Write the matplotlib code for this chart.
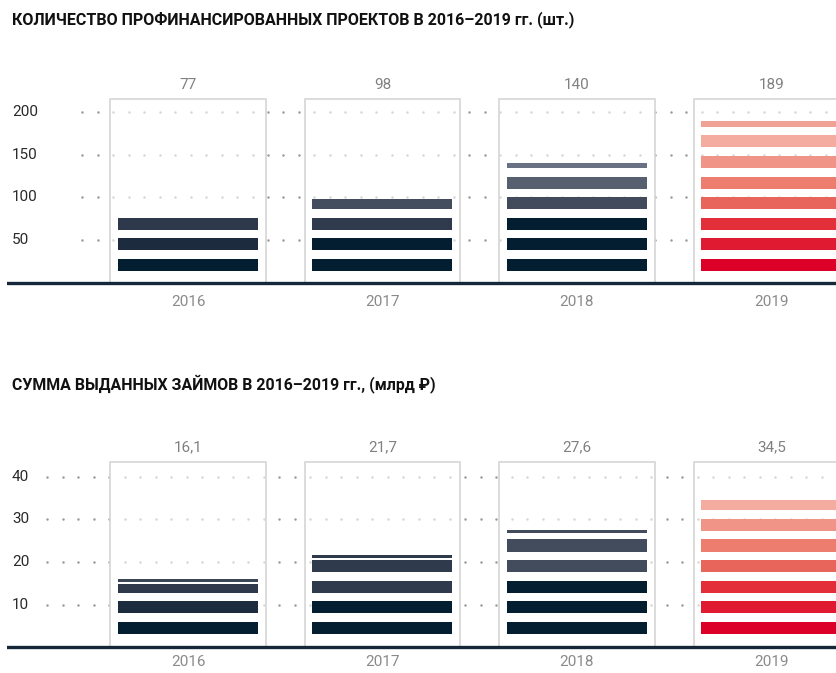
import matplotlib
matplotlib.use("Agg")
import matplotlib.pyplot as plt
import numpy as np

plt.rcParams['font.family'] = ['Roboto', 'DejaVu Sans']

years = ['2016', '2017', '2018', '2019']

# количество проектов (шт.)
projects = [77, 98, 140, 189]
projects_lbl = ['77', '98', '140', '189']
projects_ticks = [50, 100, 150, 200]

# сумма займов (млрд руб.)
loans = [16.1, 21.7, 27.6, 34.5]
loans_lbl = ['16,1', '21,7', '27,6', '34,5']
loans_ticks = [10, 20, 30, 40]

navy = '#021e30'
reds = ['#dc0029', '#e01b31', '#e32f39', '#e8655b', '#ec7d6f', '#ef9486', '#f3ac9f', '#f0a294']
colors_top = [
    [navy, '#1c2b3d', '#2e3a4b'],
    [navy, navy, '#2f3a4c', '#434d5e'],
    [navy, navy, navy, '#414b5c', '#56606f', '#687282'],
    reds,
]
colors_bot = [
    [navy, '#1c2b3d', '#2e3a4b', '#3a4556'],
    [navy, navy, '#2f3a4c', '#2f3a4c', '#2f3a4c'],
    [navy, navy, navy, '#424c5d', '#424c5d', '#424c5d'],
    reds,
]

XMIN, XMAX = -0.931, 3.338
BOX_W = 0.80
BAR_W = 0.72
DOT_STEP = 0.0797


def stripes(v, step, b0, h, tmin):
    # полосы с шагом step, верхняя обрезается по значению
    segs = []
    k = 0
    while b0 + k * step < v:
        lo = b0 + k * step
        hi = min(lo + h, v)
        if hi - lo < tmin:
            lo = hi - tmin
        segs.append([lo, hi])
        k += 1
    if v - segs[-1][1] > 0.06 * step:
        lo = v - tmin
        if lo - segs[-1][1] < 0.1 * step:
            segs[-1][1] = lo - 0.1 * step
        segs.append([lo, v])
    return segs


def panel(ax, vals, lbls, ticks, step, b0, h, tmin, colors, ylim, box_top, lbl_y, year_y, grid_x0):
    ax.set_xlim(XMIN, XMAX)
    ax.set_ylim(*ylim)
    ax.axis('off')

    # пунктирная сетка из точек
    xs = np.arange(grid_x0, XMAX, DOT_STEP)
    for t in ticks:
        ax.plot(xs, [t] * len(xs), ls='none', marker='o', ms=1.8,
                mec='none', mfc='#9c9c9c', zorder=1)
        ax.text(0.006, t, str(t), transform=ax.get_yaxis_transform(),
                ha='left', va='center', fontsize=11, color='#2a2a2a')

    for i, v in enumerate(vals):
        # рамка
        ax.add_patch(plt.Rectangle((i - BOX_W / 2, 0), BOX_W, box_top,
                                   facecolor='white', alpha=0.6, edgecolor='none', zorder=2))
        ax.add_patch(plt.Rectangle((i - BOX_W / 2, 0), BOX_W, box_top,
                                   facecolor='none', edgecolor='#d6d6d6', lw=1.2, zorder=2.5))
        for k, (lo, hi) in enumerate(stripes(v, step, b0, h, tmin)):
            ax.bar(i, hi - lo, bottom=lo, width=BAR_W, color=colors[i][k], zorder=3)

        ax.text(i, lbl_y, lbls[i], ha='center', va='center', fontsize=11,
                color='#808080')
        ax.text(i, year_y, years[i], ha='center', va='center', fontsize=11,
                color='#8a8a8a')

    ax.axhline(0, color='#15283a', lw=2.4, zorder=4)


fig = plt.figure(figsize=(8.37, 6.73), dpi=100)

ax1 = fig.add_axes([7 / 837, 1 - 310 / 673, 830 / 837, 250 / 673])
panel(ax1, projects, projects_lbl, projects_ticks, 24.1, 14, 14, 3.5, colors_top,
      (-31.6, 260.8), 215, 231.6, -22, -0.545)

ax2 = fig.add_axes([7 / 837, 0, 830 / 837, 248 / 673])
panel(ax2, loans, loans_lbl, loans_ticks, 4.85, 3.06, 2.84, 0.7, colors_bot,
      (-6.1, 52.2), 43.5, 47, -3.6, -0.725)

fig.text(12 / 837, 1 - 20 / 673, 'КОЛИЧЕСТВО ПРОФИНАНСИРОВАННЫХ ПРОЕКТОВ В 2016–2019 гг. (шт.)',
         fontsize=11.5, fontweight='bold', color='#111111', va='center', ha='left')
fig.text(12 / 837, 1 - 384 / 673, 'СУММА ВЫДАННЫХ ЗАЙМОВ В 2016–2019 гг., (млрд ₽)',
         fontsize=11.4, fontweight='bold', color='#111111', va='center', ha='left')

fig.savefig('out.png', dpi=100)
